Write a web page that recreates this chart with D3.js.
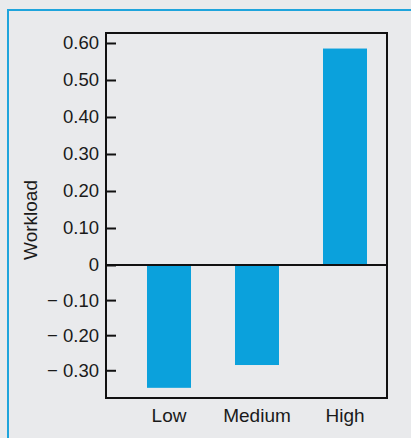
<!DOCTYPE html>
<html>
<head>
<meta charset="utf-8">
<script src="https://cdn.jsdelivr.net/npm/d3@7"></script>
<style>
  body { margin: 0; background: #e9eaec; }
  svg { display: block; }
</style>
</head>
<body>
<div id="chart"></div>
<script>
var categories = ['Low', 'Medium', 'High'],
    workload = [-0.35, -0.285, 0.585],
    tickValues = [0.6, 0.5, 0.4, 0.3, 0.2, 0.1, 0, -0.1, -0.2, -0.3],
    tickLabels = ['0.60', '0.50', '0.40', '0.30', '0.20', '0.10', '0', '\u2212 0.10', '\u2212 0.20', '\u2212 0.30'];

var W = 411, H = 438,
    frame = {left: 106, right: 387, top: 33, bottom: 398},
    blue = '#0ba1dc',
    font = 'Liberation Sans, Arial, sans-serif';

var svg = d3.select('#chart').append('svg')
    .attr('width', W).attr('height', H);

svg.append('rect').attr('width', W).attr('height', H).attr('fill', '#e9eaec');

// outer blue border
svg.append('path')
    .attr('d', 'M8,' + H + 'V10H' + W)
    .attr('fill', 'none')
    .attr('stroke', '#1ea4dc')
    .attr('stroke-width', 2);

// printed scale is slightly uneven above/below zero
var y = d3.scaleLinear()
    .domain([-0.379, 0, 0.627])
    .range([frame.bottom, 265, frame.top]);

var x = d3.scaleBand()
    .domain(categories)
    .range([125, 389])
    .paddingInner(0.5)
    .paddingOuter(0.25);

// bars
svg.selectAll('.bar')
    .data(categories)
    .enter().append('rect')
    .attr('class', 'bar')
    .attr('x', d => x(d))
    .attr('width', x.bandwidth())
    .attr('y', (d, i) => y(Math.max(0, workload[i])))
    .attr('height', (d, i) => Math.abs(y(workload[i]) - y(0)))
    .attr('fill', blue);

// frame
svg.append('rect')
    .attr('x', frame.left).attr('y', frame.top)
    .attr('width', frame.right - frame.left)
    .attr('height', frame.bottom - frame.top)
    .attr('fill', 'none')
    .attr('stroke', '#111')
    .attr('stroke-width', 2);

// zero line
svg.append('line')
    .attr('x1', frame.left).attr('x2', frame.right)
    .attr('y1', y(0)).attr('y2', y(0))
    .attr('stroke', '#111')
    .attr('stroke-width', 2);

// y axis: ticks point inward
var yAxis = svg.append('g')
    .attr('transform', 'translate(' + frame.left + ',0)')
    .call(d3.axisRight(y)
      .tickValues(tickValues)
      .tickSize(10)
      .tickFormat((d, i) => tickLabels[i]));
yAxis.select('.domain').remove();
yAxis.selectAll('.tick line').attr('stroke', '#111').attr('stroke-width', 2);
yAxis.selectAll('.tick text')
    .attr('x', -7)
    .attr('text-anchor', 'end')
    .attr('fill', '#1a1a1a')
    .style('font-family', font)
    .style('font-size', '18.5px');

// x labels
var xAxis = svg.append('g')
    .attr('transform', 'translate(0,' + frame.bottom + ')')
    .call(d3.axisBottom(x).tickSize(0).tickPadding(10.5));
xAxis.select('.domain').remove();
xAxis.selectAll('.tick text')
    .attr('fill', '#1a1a1a')
    .style('font-family', font)
    .style('font-size', '19px');

// y title
svg.append('text')
    .attr('transform', 'translate(37,220) rotate(-90)')
    .attr('text-anchor', 'middle')
    .attr('fill', '#1a1a1a')
    .style('font-family', font)
    .style('font-size', '19px')
    .text('Workload');
</script>
</body>
</html>
